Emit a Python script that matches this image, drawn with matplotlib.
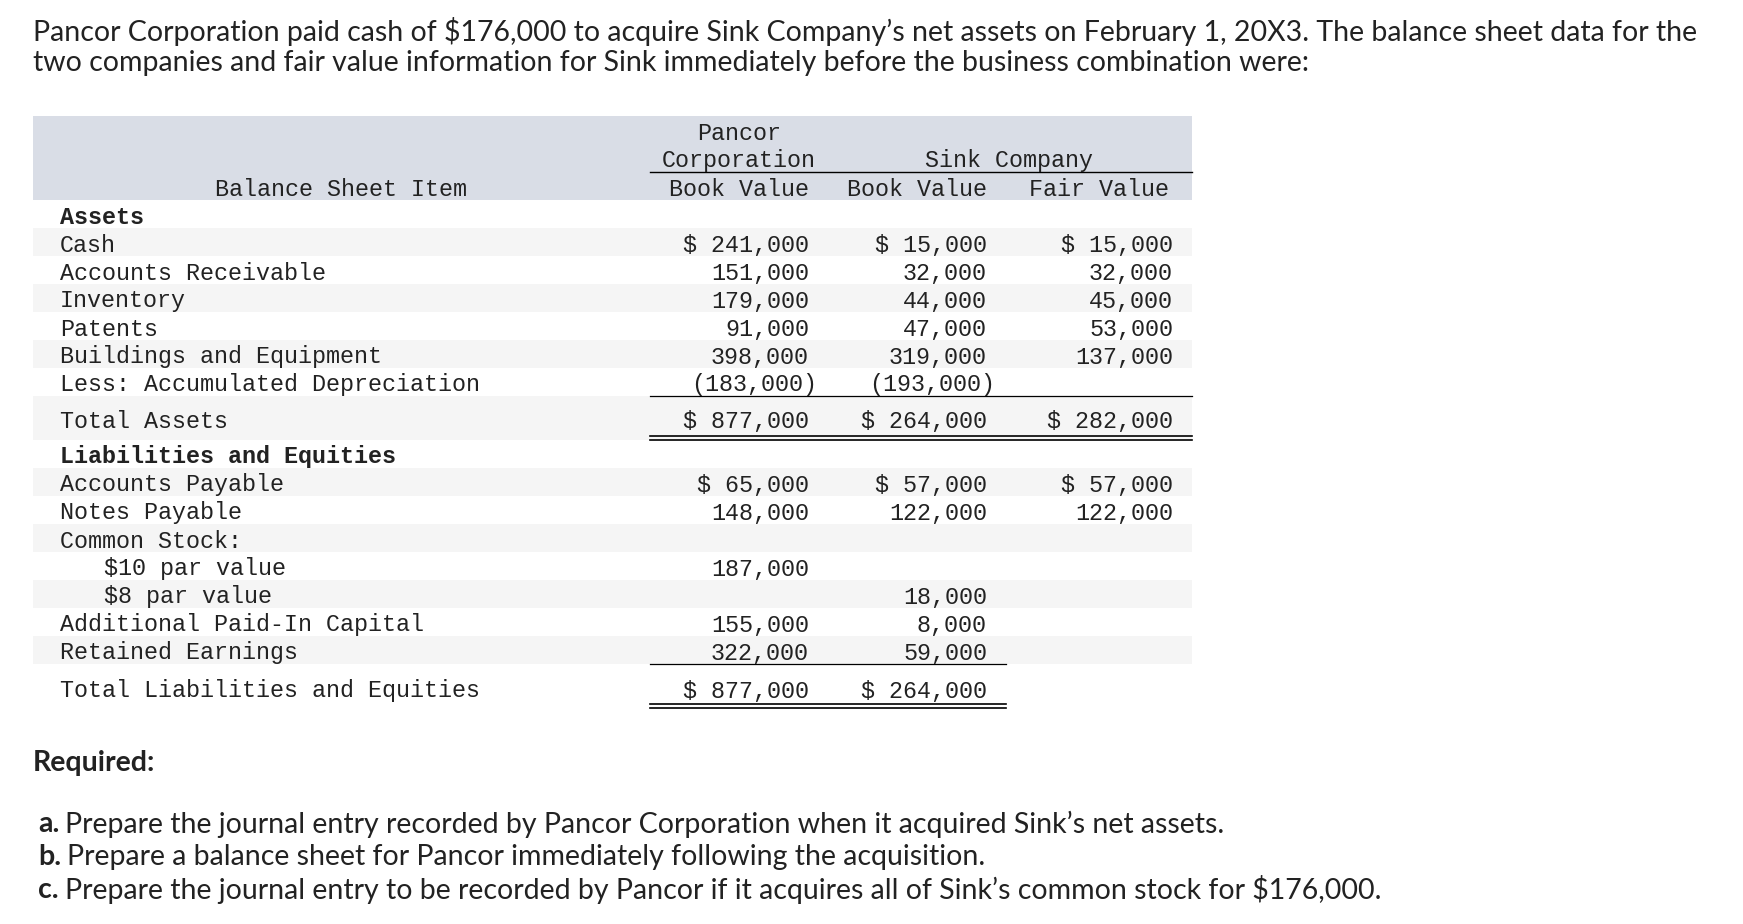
import matplotlib
matplotlib.use("Agg")
import matplotlib.pyplot as plt

# balance sheet data
row_labels = ["Assets", "Cash", "Accounts Receivable", "Inventory", "Patents",
              "Buildings and Equipment", "Less: Accumulated Depreciation",
              "Total Assets", "Liabilities and Equities", "Accounts Payable",
              "Notes Payable", "Common Stock:", "$10 par value", "$8 par value",
              "Additional Paid-In Capital", "Retained Earnings",
              "Total Liabilities and Equities"]
pancor_book = [None, 241000, 151000, 179000, 91000, 398000, -183000, 877000,
               None, 65000, 148000, None, 187000, None, 155000, 322000, 877000]
sink_book = [None, 15000, 32000, 44000, 47000, 319000, -193000, 264000,
             None, 57000, 122000, None, None, 18000, 8000, 59000, 264000]
sink_fair = [None, 15000, 32000, 45000, 53000, 137000, None, 282000,
             None, 57000, 122000, None, None, None, None, None, None]
bold_rows = ["Assets", "Liabilities and Equities"]
indent_rows = ["$10 par value", "$8 par value"]
dollar_rows = ["Cash", "Total Assets", "Accounts Payable", "Total Liabilities and Equities"]

title_lines = ["Pancor Corporation paid cash of $176,000 to acquire Sink Company\u2019s net assets on February 1, 20X3. The balance sheet data for the",
               "two companies and fair value information for Sink immediately before the business combination were:"]
required = [("a.", "Prepare the journal entry recorded by Pancor Corporation when it acquired Sink\u2019s net assets."),
            ("b.", "Prepare a balance sheet for Pancor immediately following the acquisition."),
            ("c.", "Prepare the journal entry to be recorded by Pancor if it acquires all of Sink\u2019s common stock for $176,000.")]

W, H = 1743, 924
fig = plt.figure(figsize=(W / 100, H / 100), dpi=100)
ax = fig.add_axes([0, 0, 1, 1])
ax.set_xlim(0, W)
ax.set_ylim(H, 0)
ax.axis("off")

sans = "Lato"
mono = "Liberation Mono"
tcol = "#222222"
fs_title = 20.5
fs_mono = 16.8

for i, line in enumerate(title_lines):
    ax.text(33, 31 + i * 32, line, fontsize=fs_title, family=sans, color=tcol, va="center")

# table geometry
left, right = 33, 1192
col_right = [809, 987, 1173]
col_line_left = 650
head_top, head_bot = 116, 200
dy = 3  # text sits a little below the row centre
ax.add_patch(plt.Rectangle((left, head_top), right - left, head_bot - head_top, color="#d9dde6", lw=0))

ax.text(341, 186 + dy, "Balance Sheet Item", fontsize=fs_mono, family=mono, color=tcol, ha="center", va="center")
ax.text(739, 130 + dy, "Pancor", fontsize=fs_mono, family=mono, color=tcol, ha="center", va="center")
ax.text(739, 158 + dy, "Corporation", fontsize=fs_mono, family=mono, color=tcol, ha="center", va="center")
ax.text(1009, 158 + dy, "Sink Company", fontsize=fs_mono, family=mono, color=tcol, ha="center", va="center")
for cx, t in zip([739, 917, 1099], ["Book Value", "Book Value", "Fair Value"]):
    ax.text(cx, 186 + dy, t, fontsize=fs_mono, family=mono, color=tcol, ha="center", va="center")
ax.plot([col_line_left, right], [172, 172], color="black", lw=1.0)

heights = []
for lab in row_labels:
    if lab == "Total Assets":
        heights.append(44)
    elif lab == "Total Liabilities and Equities":
        heights.append(48)
    else:
        heights.append(28)

def fmt(v, dollar):
    if v < 0:
        return "({:,})".format(-v)
    s = "{:,}".format(v)
    return "$ " + s if dollar else s

top = head_bot
for i, lab in enumerate(row_labels):
    h = heights[i]
    if i % 2 == 1:
        ax.add_patch(plt.Rectangle((left, top), right - left, h, color="#f5f5f5", lw=0))
    yc = top + h / 2 + dy
    x = 104 if lab in indent_rows else 60
    ax.text(x, yc, lab, fontsize=fs_mono, family=mono, color=tcol, va="center",
            fontweight="bold" if lab in bold_rows else "normal")
    for cr, vals in zip(col_right, [pancor_book, sink_book, sink_fair]):
        v = vals[i]
        if v is None:
            continue
        xr = cr + 8 if v < 0 else cr
        ax.text(xr, yc, fmt(v, lab in dollar_rows), fontsize=fs_mono, family=mono,
                color=tcol, ha="right", va="center")
    if lab == "Less: Accumulated Depreciation":
        ax.plot([col_line_left, right], [top + h, top + h], color="black", lw=0.9)
    if lab == "Total Assets":
        for yy in (top + h - 4, top + h):
            ax.plot([col_line_left, right], [yy, yy], color="black", lw=1.2)
    if lab == "Retained Earnings":
        ax.plot([col_line_left, 1006], [top + h, top + h], color="black", lw=0.9)
    if lab == "Total Liabilities and Equities":
        for yy in (top + h - 8, top + h - 4):
            ax.plot([col_line_left, 1006], [yy, yy], color="black", lw=1.2)
    top += h

ax.text(33, 763, "Required:", fontsize=fs_title, family=sans, color=tcol, va="center", fontweight="bold")
fig.canvas.draw()
renderer = fig.canvas.get_renderer()
for i, (tag, txt) in enumerate(required):
    y = 824 + i * 33
    t = ax.text(38, y, tag, fontsize=fs_title, family=sans, color=tcol, va="center", fontweight="bold")
    bb = t.get_window_extent(renderer)
    ax.text(bb.x1 + 6, y, txt, fontsize=fs_title, family=sans, color=tcol, va="center")

fig.savefig("out.png", dpi=100, facecolor="white")
